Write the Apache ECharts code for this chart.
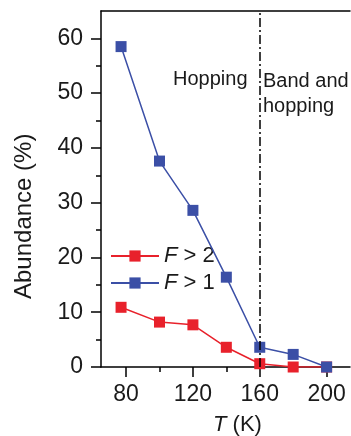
<!DOCTYPE html>
<html>
<head>
<meta charset="utf-8">
<script src="https://cdn.jsdelivr.net/npm/echarts@6/dist/echarts.min.js"></script>
<style>
  html, body { margin: 0; padding: 0; background: #fff; }
  #chart { width: 351px; height: 436px; }
</style>
</head>
<body>
<div id="chart"></div>
<script>
// Temperature points (K) and abundance (%) of each population
const temps = [77, 100, 120, 140, 160, 180, 200];
const abundF1 = [58.5, 37.6, 28.6, 16.4, 3.6, 2.3, 0];
const abundF2 = [10.9, 8.2, 7.7, 3.6, 0.6, 0, 0];

// Axis tick values
const yMajor = [0, 10, 20, 30, 40, 50, 60];
const yMinor = [5, 15, 25, 35, 45, 55];
const xMajor = [80, 120, 160, 200];
const xMinor = [100, 140, 180];
const regimeBoundary = 160;

const FONT = '"Liberation Sans", Arial, Helvetica, sans-serif';
const INK = '#1a1a1a';
const RED = '#e8212b';
const BLUE = '#3b4fa6';

const pairs = (xs, ys) => xs.map((x, i) => [x, ys[i]]);

const chart = echarts.init(document.getElementById('chart'), null, { renderer: 'canvas' });

const axisLine = { show: true, lineStyle: { color: '#000', width: 1.5 } };
const tickLine = { color: '#000', width: 1.5 };

chart.setOption({
  animation: false,
  textStyle: { fontFamily: FONT },
  grid: {
    left: 101, top: 11, right: 1, bottom: 69,
    containLabel: false, outerBoundsMode: 'none'
  },
  xAxis: [
    {
      type: 'value', min: 65, max: 214, position: 'bottom',
      axisLine: axisLine,
      axisTick: { show: true, customValues: xMajor, length: 10, lineStyle: tickLine },
      axisLabel: { customValues: xMajor, fontSize: 23, color: INK, margin: 16, fontFamily: FONT },
      splitLine: { show: false },
      name: '{i|T} (K)',
      nameLocation: 'middle',
      nameGap: 47,
      nameTextStyle: {
        fontSize: 22, color: INK, fontFamily: FONT, padding: [0, 0, 0, 24],
        rich: { i: { fontStyle: 'italic', fontSize: 22, color: INK, fontFamily: FONT } }
      }
    },
    {
      type: 'value', min: 65, max: 214, position: 'bottom',
      axisLine: { show: false },
      axisTick: { show: true, customValues: xMinor, length: 5, lineStyle: tickLine },
      axisLabel: { show: false },
      splitLine: { show: false }
    },
    {
      type: 'value', min: 65, max: 214, position: 'top',
      axisLine: axisLine,
      axisTick: { show: false },
      axisLabel: { show: false },
      splitLine: { show: false }
    }
  ],
  yAxis: [
    {
      type: 'value', min: 0, max: 65, position: 'left',
      axisLine: axisLine,
      axisTick: { show: true, customValues: yMajor, length: 10, lineStyle: tickLine },
      axisLabel: { customValues: yMajor, fontSize: 23, color: INK, margin: 18, fontFamily: FONT },
      splitLine: { show: false }
    },
    {
      type: 'value', min: 0, max: 65, position: 'left',
      axisLine: { show: false },
      axisTick: { show: true, customValues: yMinor, length: 5, lineStyle: tickLine },
      axisLabel: { show: false },
      splitLine: { show: false }
    }
  ],
  legend: {
    orient: 'vertical',
    left: 105, top: 240,
    itemWidth: 48, itemHeight: 14, itemGap: 5,
    data: ['F > 2', 'F > 1'],
    formatter: name => '{i|F}' + name.slice(1),
    textStyle: {
      fontSize: 22, color: INK, fontFamily: FONT,
      rich: { i: { fontStyle: 'italic', fontSize: 22, color: INK, fontFamily: FONT } }
    }
  },
  graphic: [
    {
      type: 'text',
      style: { text: 'Abundance (%)', font: '24px ' + FONT, fill: INK },
      x: 12, y: 299, rotation: Math.PI / 2
    },
    {
      type: 'text', x: 173, y: 69,
      style: { text: 'Hopping', font: '20px ' + FONT, fill: INK }
    },
    {
      type: 'text', x: 263, y: 69,
      style: { text: 'Band and\nhopping', font: '20px ' + FONT, fill: INK, lineHeight: 25 }
    }
  ],
  series: [
    {
      name: 'F > 2', type: 'line',
      data: pairs(temps, abundF2),
      symbol: 'rect', symbolSize: 11,
      itemStyle: { color: RED },
      lineStyle: { color: RED, width: 1.5 },
      markLine: {
        silent: true, symbol: 'none',
        label: { show: false },
        lineStyle: { color: '#000', width: 1.5, type: [9, 3, 2, 3] },
        data: [{ xAxis: regimeBoundary }]
      },
      z: 3
    },
    {
      name: 'F > 1', type: 'line',
      data: pairs(temps, abundF1),
      symbol: 'rect', symbolSize: 11,
      itemStyle: { color: BLUE },
      lineStyle: { color: BLUE, width: 1.5 },
      z: 4
    }
  ]
});
</script>
</body>
</html>
